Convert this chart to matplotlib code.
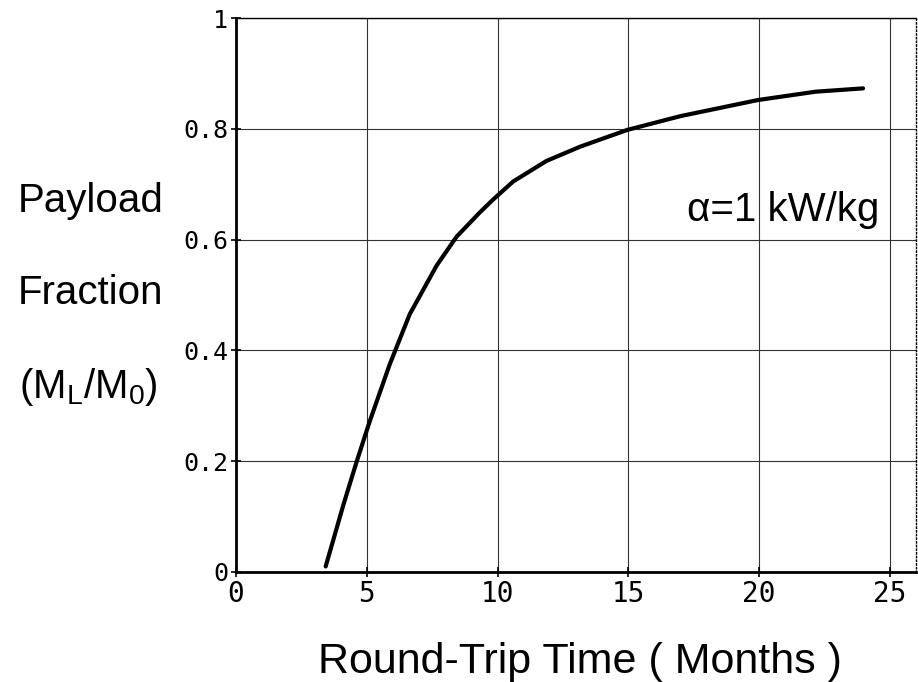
import matplotlib.pyplot as plt

# curve
tempo = [3.43, 4.1, 4.62, 5.1, 5.88, 6.64, 7.67, 8.43, 9.3, 9.8,
         10.6, 11.87, 13.17, 14.96, 17.0, 19.96, 22.16, 23.97]
fracao = [0.01, 0.12, 0.2, 0.27, 0.375, 0.465, 0.553, 0.605, 0.648, 0.671,
          0.705, 0.742, 0.768, 0.798, 0.823, 0.852, 0.867, 0.873]

xticks = [0, 5, 10, 15, 20, 25]
yticks = [0, 0.2, 0.4, 0.6, 0.8, 1]
ylabels = ['0', '0.2', '0.4', '0.6', '0.8', '1']

fig = plt.figure(figsize=(9.18, 6.82), dpi=100)
ax = fig.add_axes([0.257, 0.1613, 0.741, 0.8123])

ax.plot(tempo, fracao, color='black', lw=3, solid_capstyle='round', solid_joinstyle='round')

ax.set_xlim(0, 26)
ax.set_ylim(0, 1)
ax.set_xticks(xticks)
ax.set_yticks(yticks)
ax.set_xticklabels([str(t) for t in xticks], family='DejaVu Sans Mono', fontsize=20)
ax.set_yticklabels(ylabels, family='DejaVu Sans Mono', fontsize=18)
ax.tick_params(direction='inout', length=7, width=1.2, pad=2)
ax.grid(True, color='#333333', lw=0.8)

ax.spines['left'].set_linewidth(2)
ax.spines['bottom'].set_linewidth(2)
ax.spines['top'].set_linewidth(1)
ax.spines['right'].set_linewidth(1)
ax.spines['right'].set_linestyle(':')

fonte = 'Liberation Sans'
fig.text(0.099, 0.706, 'Payload', family=fonte, fontsize=29, ha='center', va='center')
fig.text(0.099, 0.570, 'Fraction', family=fonte, fontsize=29, ha='center', va='center')
fig.text(0.096, 0.432, r'(M$_\mathregular{L}$/M$_\mathregular{0}$)', family=fonte, fontsize=29,
         ha='center', va='center')
fig.text(0.632, 0.03, 'Round-Trip Time ( Months )', family=fonte, fontsize=31,
         ha='center', va='center')
ax.text(24.6, 0.653, 'α=1 kW/kg', family=fonte, fontsize=29, ha='right', va='center')

fig.savefig('out.png', dpi=100)
